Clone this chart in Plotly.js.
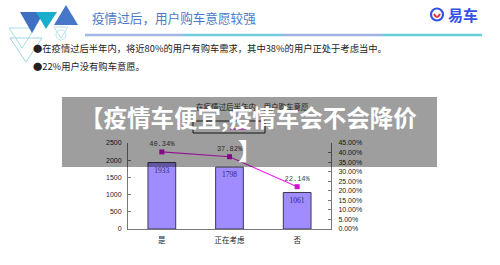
<!DOCTYPE html>
<html>
<head>
<meta charset="utf-8">
<script src="https://cdn.plot.ly/plotly-3.0.1.min.js"></script>
<style>html,body{margin:0;padding:0;background:#fff;}#chart{width:500px;height:265px;}</style>
</head>
<body>
<div id="chart"></div>
<script>
const categories = ['是', '正在考虑', '否'];
const counts = [1933, 1798, 1061];
const shares = [0.4034, 0.3782, 0.2214];
const shareLabels = ['40.34%', '37.82%', '22.14%'];
const slideTitle = '疫情过后，用户购车意愿较强';
const bullet1 = '●在疫情过后半年内，将近80%的用户有购车需求，其中38%的用户正处于考虑当中。';
const bullet2 = '●22%用户没有购车意愿。';
const bannerLine1 = '【疫情车便宜,疫情车会不会降价';
const bannerLine2 = '】';
const chartTitle = '在疫情过后半年内，用户购车意愿';
const logoText = '易车';

// pixel -> paper helpers (plot area: x 128..331, y 143..229)
const L = 128, R = 331, T = 143, B = 229;
const X = px => (px - L) / (R - L);
const Y = py => (B - py) / (B - T);
const P = pts => 'M' + pts.map(p => X(p[0]).toFixed(4) + ',' + Y(p[1]).toFixed(4)).join(' L') + ' Z';

const shapes = [];
function tri(pts, fill, line) {
  shapes.push({type: 'path', xref: 'paper', yref: 'paper', path: P(pts),
    fillcolor: fill || 'rgba(0,0,0,0)', line: {color: line || 'rgba(0,0,0,0)', width: line ? 1 : 0}, layer: 'above'});
}
// decorative triangles
tri([[9, 28], [35, 28], [22, 48]], null, '#a9dde8');
tri([[10, 38], [42, 38], [26, 62]], null, '#9fd3e6');
tri([[20, 12], [44, 12], [32, 33]], '#3d6fc2');
tri([[36, 12], [57, 12], [46, 29]], '#19aecb');
tri([[54, 25], [78, 25], [66, 5]], '#4677c9');
tri([[54, 27], [68, 27], [61, 38]], null, '#b6e2ec');
shapes.push({type: 'circle', xref: 'paper', yref: 'paper', x0: X(56), x1: X(66), y0: Y(40), y1: Y(30),
  line: {color: '#bfe5ee', width: 1}, layer: 'above'});

// gradient-ish underline
[[85, 183, '#a3b6e2'], [183, 283, '#74cbd9'], [283, 382, '#9fb3e2'], [382, 482, '#66cfd8']].forEach(s => {
  shapes.push({type: 'line', xref: 'paper', yref: 'paper', x0: X(s[0]), x1: X(s[1]), y0: Y(35), y1: Y(35),
    line: {color: s[2], width: 2.5}, layer: 'above'});
});

// logo
shapes.push({type: 'circle', xref: 'paper', yref: 'paper', x0: X(431), x1: X(443), y0: Y(20.5), y1: Y(8.5),
  line: {color: '#3552e8', width: 2.2}, layer: 'above'});
shapes.push({type: 'path', xref: 'paper', yref: 'paper',
  path: 'M' + X(434) + ',' + Y(14) + ' Q' + X(437) + ',' + Y(20) + ' ' + X(440) + ',' + Y(14),
  line: {color: '#e8343a', width: 2}, layer: 'above'});

// legend box of underlying chart (under overlay)
shapes.push({type: 'rect', xref: 'paper', yref: 'paper', x0: X(193), x1: X(265), y0: Y(133), y1: Y(121),
  line: {color: '#222', width: 1}, fillcolor: 'rgba(0,0,0,0)', layer: 'above'});
shapes.push({type: 'line', xref: 'paper', yref: 'paper', x0: X(230), x1: X(246), y0: Y(129), y1: Y(129),
  line: {color: '#ff00ff', width: 1}, layer: 'above'});

// dark overlay band
shapes.push({type: 'rect', xref: 'paper', yref: 'paper', x0: X(62), x1: X(437), y0: Y(167), y1: Y(97),
  fillcolor: 'rgba(0,0,0,0.38)', line: {width: 0}, layer: 'above'});

const cjk = '"Noto Sans CJK SC", "Noto Sans", sans-serif';
const annotations = [
  {text: slideTitle, x: X(90), y: Y(17.5), xanchor: 'left', yanchor: 'middle',
   font: {family: cjk, size: 12.6, color: '#4a7bc8'}},
  {text: bullet1, x: X(31), y: Y(48), xanchor: 'left', yanchor: 'middle',
   font: {family: cjk, size: 9.3, color: '#222'}},
  {text: bullet2, x: X(31), y: Y(66), xanchor: 'left', yanchor: 'middle',
   font: {family: cjk, size: 9.3, color: '#222'}},
  {text: '<b>' + logoText + '</b>', x: X(446), y: Y(14.5), xanchor: 'left', yanchor: 'middle',
   font: {family: cjk, size: 15, color: '#3552e8'}},
  {text: chartTitle, x: X(252), y: Y(106), xanchor: 'center', yanchor: 'middle',
   font: {family: cjk, size: 7.5, color: '#1a1a1a'}},
  {text: '<b>' + bannerLine1 + '</b>', x: X(248), y: Y(116.5), xanchor: 'center', yanchor: 'middle',
   font: {family: cjk, size: 23.5, color: '#ffffff'}},
  {text: '<b>' + bannerLine2 + '</b>', x: X(250), y: Y(150), xanchor: 'center', yanchor: 'middle',
   font: {family: cjk, size: 23.5, color: '#ffffff'}}
].map(a => Object.assign({xref: 'paper', yref: 'paper', showarrow: false}, a));

const traces = [
  {type: 'bar', x: categories, y: counts, text: counts.map(String),
   textposition: 'inside', insidetextanchor: 'end',
   textfont: {family: 'Liberation Serif, serif', size: 7.5, color: '#2c2c6e'},
   marker: {color: '#a08cff', line: {color: '#3a3a55', width: 1}},
   width: 0.41, hoverinfo: 'skip', cliponaxis: false},
  {type: 'scatter', mode: 'lines+markers+text', x: categories, y: shares, yaxis: 'y2',
   text: shareLabels, textposition: 'top center',
   textfont: {family: 'Liberation Mono, monospace', size: 7, color: '#444'},
   line: {color: '#f020f0', width: 1.2},
   marker: {symbol: 'square', size: 5, color: '#d010d0'},
   hoverinfo: 'skip', cliponaxis: false}
];

const tickFont = {family: 'Liberation Sans, Arial, sans-serif', size: 7, color: '#222'};
const layout = {
  width: 500, height: 265,
  margin: {l: L, r: 500 - R, t: T, b: 265 - B, pad: 0},
  paper_bgcolor: '#ffffff', plot_bgcolor: '#ffffff',
  showlegend: false,
  xaxis: {type: 'category', range: [-0.5, 2.5], showline: true, linecolor: '#777', linewidth: 1,
    ticks: '', showgrid: false, zeroline: false, fixedrange: true, ticklabelstandoff: 4,
    tickfont: {family: cjk, size: 7.5, color: '#222'}},
  yaxis: {range: [0, 2500], dtick: 500, tick0: 0, showline: true, linecolor: '#777', linewidth: 1,
    ticks: 'inside', ticklen: 3, tickcolor: '#777', showgrid: false, zeroline: false,
    tickfont: tickFont, ticklabelstandoff: 4},
  yaxis2: {overlaying: 'y', side: 'right', range: [0, 0.45], dtick: 0.05, tick0: 0, tickformat: '.2%',
    showline: true, linecolor: '#777', linewidth: 1, ticks: 'inside', ticklen: 3, tickcolor: '#777',
    showgrid: false, zeroline: false, tickfont: tickFont, ticklabelstandoff: 5},
  shapes: shapes,
  annotations: annotations
};

Plotly.newPlot('chart', traces, layout, {staticPlot: true, displayModeBar: false});
</script>
</body>
</html>
